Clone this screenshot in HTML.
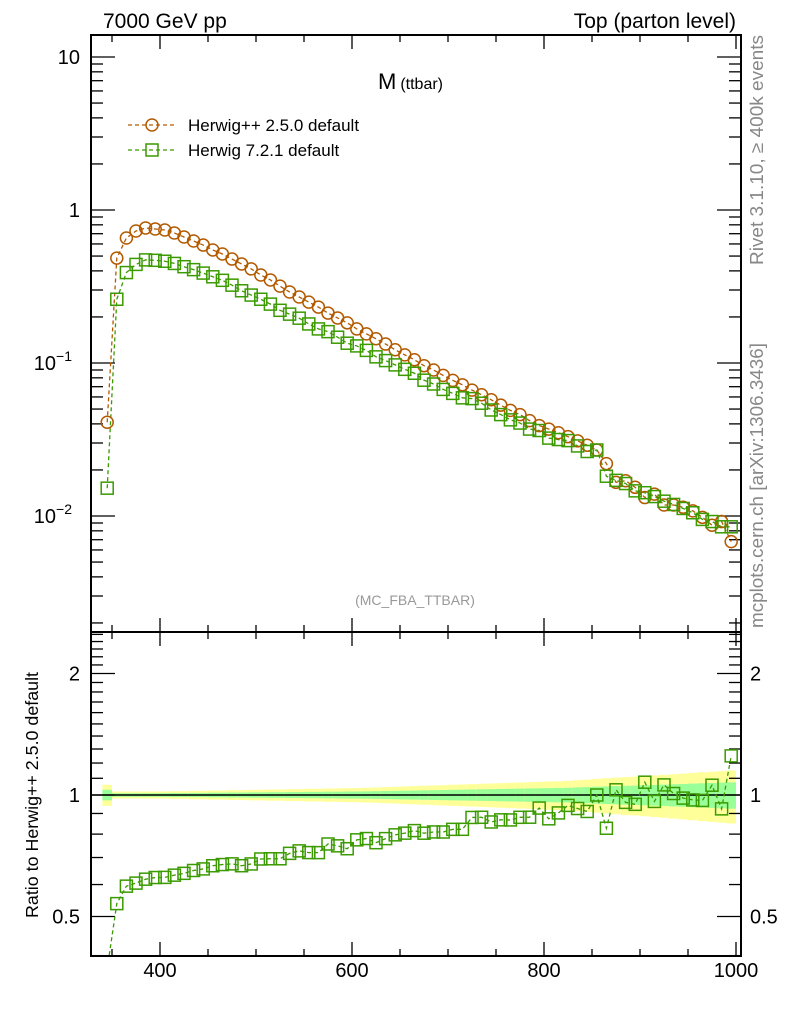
<!DOCTYPE html>
<html><head><meta charset="utf-8"><style>
html,body{margin:0;padding:0;background:#fff;}
svg{display:block;font-family:"Liberation Sans",sans-serif;}
</style></head><body>
<svg id="chart" width="786" height="1024" viewBox="0 0 786 1024" xmlns="http://www.w3.org/2000/svg">
<text x="103" y="28" font-size="21">7000 GeV pp</text>
<text x="736" y="28" font-size="21" text-anchor="end">Top (parton level)</text>
<text transform="translate(763,265) rotate(-90)" font-size="18.5" fill="#888" textLength="230" lengthAdjust="spacingAndGlyphs">Rivet 3.1.10, ≥ 400k events</text>
<text transform="translate(763,628) rotate(-90)" font-size="18.5" fill="#888" textLength="285" lengthAdjust="spacingAndGlyphs">mcplots.cern.ch [arXiv:1306.3436]</text>
<text x="378" y="89" font-size="22">M<tspan font-size="16" dx="4">(ttbar)</tspan></text>
<text x="415" y="605" font-size="14" fill="#999" text-anchor="middle">(MC_FBA_TTBAR)</text>
<text transform="translate(38,795) rotate(-90)" font-size="17.5" text-anchor="middle" textLength="246" lengthAdjust="spacingAndGlyphs">Ratio to Herwig++ 2.5.0 default</text>
<g id="legend">
<line x1="128" y1="125" x2="176" y2="125" stroke="#b35a00" stroke-width="1.3" stroke-dasharray="4,3"/>
<circle cx="152" cy="125" r="6" fill="none" stroke="#b35a00" stroke-width="1.5"/>
<text x="188" y="131" font-size="17">Herwig++ 2.5.0 default</text>
<line x1="128" y1="150" x2="176" y2="150" stroke="#3a9a00" stroke-width="1.3" stroke-dasharray="4,3"/>
<rect x="146" y="144" width="12" height="12" fill="none" stroke="#3a9a00" stroke-width="1.5"/>
<text x="188" y="156" font-size="17">Herwig 7.2.1 default</text>
</g>
<g id="bands"></g>
<g id="axes"></g>
<g id="series"></g>
</svg>
<script>
const binCenters=[345,355,365,375,385,395,405,415,425,435,445,455,465,475,485,495,505,515,525,535,545,555,565,575,585,595,605,615,625,635,645,655,665,675,685,695,705,715,725,735,745,755,765,775,785,795,805,815,825,835,845,855,865,875,885,895,905,915,925,935,945,955,965,975,985,995];
const herwigpp=[0.041,0.485,0.656,0.729,0.763,0.751,0.74,0.707,0.666,0.627,0.59,0.548,0.516,0.478,0.444,0.412,0.376,0.349,0.318,0.291,0.27,0.25,0.232,0.212,0.197,0.183,0.167,0.155,0.144,0.133,0.122,0.113,0.105,0.096,0.090,0.083,0.077,0.072,0.0665,0.062,0.0575,0.053,0.049,0.046,0.042,0.039,0.037,0.035,0.033,0.031,0.029,0.027,0.022,0.0166,0.017,0.0154,0.0132,0.0139,0.0118,0.0118,0.0114,0.0108,0.0098,0.0087,0.0092,0.0068];
const herwig7=[0.0152,0.261,0.390,0.441,0.472,0.469,0.4625,0.4475,0.426,0.4076,0.387,0.366,0.347,0.3227,0.2966,0.278,0.261,0.2426,0.221,0.2086,0.1963,0.18,0.167,0.1603,0.1474,0.1347,0.1293,0.1209,0.1097,0.1037,0.0972,0.0909,0.0857,0.0772,0.0729,0.0672,0.0633,0.0592,0.0585,0.0546,0.0493,0.046,0.0425,0.0405,0.037,0.0362,0.0323,0.0316,0.0311,0.0287,0.0264,0.027,0.0182,0.0171,0.0163,0.0146,0.0142,0.0134,0.0125,0.0119,0.0112,0.0105,0.0095,0.0092,0.0085,0.0085];
const bandInner=[0.03,0.01,0.01,0.01,0.01,0.01,0.01,0.011,0.011,0.012,0.012,0.013,0.013,0.014,0.014,0.015,0.015,0.016,0.016,0.017,0.017,0.018,0.018,0.019,0.019,0.02,0.02,0.021,0.022,0.023,0.024,0.025,0.026,0.027,0.028,0.029,0.03,0.031,0.032,0.033,0.034,0.035,0.036,0.037,0.038,0.039,0.04,0.041,0.042,0.044,0.046,0.048,0.05,0.052,0.054,0.055,0.057,0.059,0.061,0.063,0.065,0.067,0.069,0.071,0.073,0.075];
const xTickLabels=[400,600,800,1000];
const mainTickLabels=[[10,"10"],[1,"1"],[0.1,"10"],[0.01,"10"]];
const ratioTickLabels=[0.5,1,2];

const NS="http://www.w3.org/2000/svg";
const L=91,R=741,T=35,MB=632,RB=956;
const X=v=>-224+0.96*v;
const Y=v=>210-153*Math.log10(v);
const YR=v=>795-121.5*Math.log2(v);
function mk(tag,attrs,parent){const e=document.createElementNS(NS,tag);for(const k in attrs)e.setAttribute(k,attrs[k]);parent.appendChild(e);return e;}
const bands=document.getElementById('bands'),axes=document.getElementById('axes'),series=document.getElementById('series');

binCenters.forEach((c,i)=>{
  const x0=X(c-5),x1=X(c+5),w=bandInner[i];
  const ry=mk('rect',{x:x0,y:YR(1+2*w),width:x1-x0,height:YR(1-2*w)-YR(1+2*w),fill:'#ffff99'},bands);
  
  
  const rg=mk('rect',{x:x0,y:YR(1+w),width:x1-x0,height:YR(1-w)-YR(1+w),fill:'#99ff99'},bands);
  
  
});
const ref=mk('line',{x1:L,x2:R,y1:YR(1),y2:YR(1),stroke:'#000','stroke-width':1.5},bands);



const f1=mk('rect',{x:L,y:T,width:R-L,height:MB-T,fill:'none',stroke:'#000','stroke-width':2},axes);


const f2=mk('rect',{x:L,y:MB,width:R-L,height:RB-MB,fill:'none',stroke:'#000','stroke-width':2},axes);



for(let v=350;v<=1000;v+=50){
  const x=X(v),len=(v%200===0)?14:7;
  [[T,1],[MB,-1],[MB,1],[RB,-1]].forEach(([y,d])=>{
    const t=mk('line',{x1:x,x2:x,y1:y,y2:y+d*len,stroke:'#000','stroke-width':1.3},axes);
    
    
  });
}
xTickLabels.forEach(v=>{
  const t=mk('text',{x:X(v),y:977,'font-size':20,'text-anchor':'middle'},axes);t.textContent=v;
  
  
});
for(let e=-3;e<=1;e++){for(let m=1;m<=9;m++){
  const v=m*Math.pow(10,e),y=Y(v);if(y<T||y>MB)continue;
  const len=m===1?24:12;
  [[L,1],[R,-1]].forEach(([x,d])=>{
    const t=mk('line',{x1:x,x2:x+d*len,y1:y,y2:y,stroke:'#000','stroke-width':1.3},axes);
    
    
  });
}}
mainTickLabels.forEach(([v,s])=>{
  const t=mk('text',{x:v>=1?80:72,y:Y(v)+7,'font-size':20,'text-anchor':'end'},axes);t.textContent=s;
  
  
  if(v<1){const sp=mk('tspan',{dy:-9,'font-size':14},t);sp.textContent='−'+Math.round(-Math.log10(v));}
});
for(let k=4;k<=25;k++){
  const v=k/10,y=YR(v);if(y<MB||y>RB)continue;
  const major=(k===5||k===10||k===20),len=major?24:12;
  [[L,1],[R,-1]].forEach(([x,d])=>{
    const t=mk('line',{x1:x,x2:x+d*len,y1:y,y2:y,stroke:'#000','stroke-width':1.3},axes);
    
    
  });
}
ratioTickLabels.forEach(v=>{
  const a=mk('text',{x:80,y:YR(v)+7,'font-size':20,'text-anchor':'end'},axes);a.textContent=v;
  
  
  const b=mk('text',{x:750,y:YR(v)+7,'font-size':20},axes);b.textContent=v;
  
  
});

function clip(id,y0,y1){const d=mk('clipPath',{id:id},series);mk('rect',{x:L,y:y0,width:R-L,height:y1-y0},d);}
clip('cm',T,MB);clip('cr',MB,RB);
const gm=mk('g',{'clip-path':'url(#cm)'},series),gr=mk('g',{'clip-path':'url(#cr)'},series);
function poly(vals,fy,col,g,name){
  const p=mk('polyline',{points:vals.map((v,i)=>X(binCenters[i])+','+fy(v)).join(' '),fill:'none',stroke:col,'stroke-width':1.3,'stroke-dasharray':'4,3'},g);
  
  
}
const OR='#b35a00',GR='#3a9a00';
poly(herwigpp,Y,OR,gm,'herwigpp-line');
poly(herwig7,Y,GR,gm,'herwig7-line');
herwigpp.forEach((v,i)=>{
  const c=mk('circle',{cx:X(binCenters[i]),cy:Y(v),r:6,fill:'none',stroke:OR,'stroke-width':1.5},gm);
  
  
});
herwig7.forEach((v,i)=>{
  const r=mk('rect',{x:X(binCenters[i])-6,y:Y(v)-6,width:12,height:12,fill:'none',stroke:GR,'stroke-width':1.5},gm);
  
  
});
const ratio=herwig7.map((v,i)=>v/herwigpp[i]);
poly(ratio,YR,GR,gr,'ratio-line');
ratio.forEach((v,i)=>{
  const r=mk('rect',{x:X(binCenters[i])-6,y:YR(v)-6,width:12,height:12,fill:'none',stroke:GR,'stroke-width':1.5},gr);
  
  
});
</script>
</body></html>
